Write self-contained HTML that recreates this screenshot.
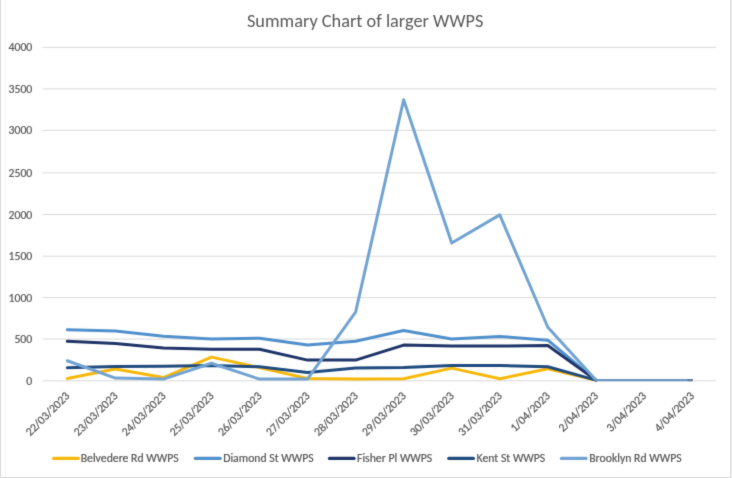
<!DOCTYPE html><html><head><meta charset="utf-8"><title>Summary Chart of larger WWPS</title><style>html,body{margin:0;padding:0;background:#fff;width:732px;height:478px;overflow:hidden}svg{display:block}text{font-family:Carlito, 'Liberation Sans', Arial, sans-serif;fill:#595959;stroke:#595959;stroke-width:0.22px}</style></head><body>
<svg width="732" height="478" viewBox="0 0 732 478">
<defs><filter id="soft" filterUnits="userSpaceOnUse" x="0" y="0" width="732" height="478" color-interpolation-filters="sRGB"><feConvolveMatrix order="3" kernelMatrix="0.02 0.08 0.02 0.08 0.6 0.08 0.02 0.08 0.02" edgeMode="duplicate"/></filter></defs>
<g filter="url(#soft)">
<rect x="0" y="0" width="732" height="478" fill="#fff"/>
<path d="M0.5 0V477.5H730" fill="none" stroke="#D9D9D9" stroke-width="1"/>
<line x1="730.5" y1="0" x2="730.5" y2="478" stroke="#DEDEDE" stroke-width="1"/>
<line x1="5.5" y1="0" x2="5.5" y2="477" stroke="#F3F3F3" stroke-width="1"/>
<line x1="731.5" y1="0" x2="731.5" y2="478" stroke="#EBEBEB" stroke-width="1"/>
<text x="365.2" y="26.6" text-anchor="middle" font-size="18.3" style="stroke-width:0" textLength="236.44" lengthAdjust="spacingAndGlyphs">Summary Chart of larger WWPS</text>
<line x1="42.5" y1="380.80" x2="716.4" y2="380.80" stroke="#D9D9D9" stroke-width="1"/>
<text x="32.3" y="384.80" text-anchor="end" font-size="11.76" textLength="5.97" lengthAdjust="spacingAndGlyphs">0</text>
<line x1="42.5" y1="339.00" x2="716.4" y2="339.00" stroke="#D9D9D9" stroke-width="1"/>
<text x="32.3" y="343.00" text-anchor="end" font-size="11.76" textLength="17.88" lengthAdjust="spacingAndGlyphs">500</text>
<line x1="42.5" y1="297.60" x2="716.4" y2="297.60" stroke="#D9D9D9" stroke-width="1"/>
<text x="32.3" y="301.60" text-anchor="end" font-size="11.76" textLength="23.83" lengthAdjust="spacingAndGlyphs">1000</text>
<line x1="42.5" y1="256.20" x2="716.4" y2="256.20" stroke="#D9D9D9" stroke-width="1"/>
<text x="32.3" y="260.20" text-anchor="end" font-size="11.76" textLength="23.83" lengthAdjust="spacingAndGlyphs">1500</text>
<line x1="42.5" y1="214.50" x2="716.4" y2="214.50" stroke="#D9D9D9" stroke-width="1"/>
<text x="32.3" y="218.50" text-anchor="end" font-size="11.76" textLength="23.83" lengthAdjust="spacingAndGlyphs">2000</text>
<line x1="42.5" y1="172.90" x2="716.4" y2="172.90" stroke="#D9D9D9" stroke-width="1"/>
<text x="32.3" y="176.90" text-anchor="end" font-size="11.76" textLength="23.83" lengthAdjust="spacingAndGlyphs">2500</text>
<line x1="42.5" y1="130.40" x2="716.4" y2="130.40" stroke="#D9D9D9" stroke-width="1"/>
<text x="32.3" y="134.40" text-anchor="end" font-size="11.76" textLength="23.83" lengthAdjust="spacingAndGlyphs">3000</text>
<line x1="42.5" y1="88.90" x2="716.4" y2="88.90" stroke="#D9D9D9" stroke-width="1"/>
<text x="32.3" y="92.90" text-anchor="end" font-size="11.76" textLength="23.83" lengthAdjust="spacingAndGlyphs">3500</text>
<line x1="42.5" y1="47.40" x2="716.4" y2="47.40" stroke="#D9D9D9" stroke-width="1"/>
<text x="32.3" y="51.40" text-anchor="end" font-size="11.76" textLength="23.83" lengthAdjust="spacingAndGlyphs">4000</text>
<text transform="translate(70.30 396.50) rotate(-45)" text-anchor="end" font-size="11.76" textLength="56.73" lengthAdjust="spacingAndGlyphs">22/03/2023</text>
<text transform="translate(118.35 396.50) rotate(-45)" text-anchor="end" font-size="11.76" textLength="56.73" lengthAdjust="spacingAndGlyphs">23/03/2023</text>
<text transform="translate(166.40 396.50) rotate(-45)" text-anchor="end" font-size="11.76" textLength="56.73" lengthAdjust="spacingAndGlyphs">24/03/2023</text>
<text transform="translate(214.45 396.50) rotate(-45)" text-anchor="end" font-size="11.76" textLength="56.73" lengthAdjust="spacingAndGlyphs">25/03/2023</text>
<text transform="translate(262.50 396.50) rotate(-45)" text-anchor="end" font-size="11.76" textLength="56.73" lengthAdjust="spacingAndGlyphs">26/03/2023</text>
<text transform="translate(310.55 396.50) rotate(-45)" text-anchor="end" font-size="11.76" textLength="56.73" lengthAdjust="spacingAndGlyphs">27/03/2023</text>
<text transform="translate(358.60 396.50) rotate(-45)" text-anchor="end" font-size="11.76" textLength="56.73" lengthAdjust="spacingAndGlyphs">28/03/2023</text>
<text transform="translate(406.65 396.50) rotate(-45)" text-anchor="end" font-size="11.76" textLength="56.73" lengthAdjust="spacingAndGlyphs">29/03/2023</text>
<text transform="translate(454.70 396.50) rotate(-45)" text-anchor="end" font-size="11.76" textLength="56.73" lengthAdjust="spacingAndGlyphs">30/03/2023</text>
<text transform="translate(502.75 396.50) rotate(-45)" text-anchor="end" font-size="11.76" textLength="56.73" lengthAdjust="spacingAndGlyphs">31/03/2023</text>
<text transform="translate(550.80 396.50) rotate(-45)" text-anchor="end" font-size="11.76" textLength="50.77" lengthAdjust="spacingAndGlyphs">1/04/2023</text>
<text transform="translate(598.85 396.50) rotate(-45)" text-anchor="end" font-size="11.76" textLength="50.77" lengthAdjust="spacingAndGlyphs">2/04/2023</text>
<text transform="translate(646.90 396.50) rotate(-45)" text-anchor="end" font-size="11.76" textLength="50.77" lengthAdjust="spacingAndGlyphs">3/04/2023</text>
<text transform="translate(694.95 396.50) rotate(-45)" text-anchor="end" font-size="11.76" textLength="50.77" lengthAdjust="spacingAndGlyphs">4/04/2023</text>
<polyline points="67.30,378.52 115.35,369.01 163.40,377.60 211.45,357.10 259.50,367.60 307.55,378.52 355.60,379.10 403.65,378.77 451.70,368.10 499.75,378.77 547.80,368.76 595.85,380.10" fill="none" stroke="#F8B80A" stroke-width="3.0" stroke-linejoin="round" stroke-linecap="round"/>
<polyline points="67.30,329.67 115.35,331.09 163.40,336.34 211.45,339.09 259.50,338.17 307.55,345.09 355.60,341.18 403.65,330.42 451.70,339.09 499.75,336.51 547.80,340.18 595.85,380.10" fill="none" stroke="#5190CC" stroke-width="3.0" stroke-linejoin="round" stroke-linecap="round"/>
<polyline points="67.30,341.34 115.35,343.43 163.40,348.01 211.45,349.26 259.50,349.26 307.55,360.10 355.60,360.10 403.65,345.09 451.70,346.01 499.75,346.01 547.80,345.59 595.85,380.10" fill="none" stroke="#1F3468" stroke-width="3.0" stroke-linejoin="round" stroke-linecap="round"/>
<polyline points="67.30,367.68 115.35,366.51 163.40,366.18 211.45,365.51 259.50,366.76 307.55,372.43 355.60,368.10 403.65,367.51 451.70,365.51 499.75,365.51 547.80,366.76 595.85,380.10" fill="none" stroke="#1F4B7E" stroke-width="3.0" stroke-linejoin="round" stroke-linecap="round"/>
<polyline points="67.30,360.76 115.35,378.10 163.40,379.10 211.45,363.26 259.50,379.10 307.55,378.93 355.60,312.17 403.65,99.71 451.70,243.07 499.75,214.90 547.80,327.26 595.85,380.10" fill="none" stroke="#72A3D2" stroke-width="3.0" stroke-linejoin="round" stroke-linecap="round"/>
<polyline points="595.85,380.10 691.95,380.10" fill="none" stroke="#6E96C2" stroke-width="2.3" stroke-linecap="round"/>
<line x1="688.45" y1="380.10" x2="691.95" y2="380.10" stroke="#58769C" stroke-width="2.3" stroke-linecap="round" opacity="0.8"/>
<line x1="53.6" y1="458.4" x2="78.2" y2="458.4" stroke="#F8B80A" stroke-width="3.3" stroke-linecap="round"/>
<text x="80.7" y="461.6" font-size="11.76" textLength="98.03" lengthAdjust="spacingAndGlyphs">Belvedere Rd WWPS</text>
<line x1="195.3" y1="458.4" x2="220.2" y2="458.4" stroke="#5190CC" stroke-width="3.3" stroke-linecap="round"/>
<text x="223.2" y="461.6" font-size="11.76" textLength="90.52" lengthAdjust="spacingAndGlyphs">Diamond St WWPS</text>
<line x1="329.5" y1="458.4" x2="354.0" y2="458.4" stroke="#1F3468" stroke-width="3.3" stroke-linecap="round"/>
<text x="357.0" y="461.6" font-size="11.76" textLength="75.27" lengthAdjust="spacingAndGlyphs">Fisher Pl WWPS</text>
<line x1="448.8" y1="458.4" x2="473.4" y2="458.4" stroke="#1F4B7E" stroke-width="3.3" stroke-linecap="round"/>
<text x="476.5" y="461.6" font-size="11.76" textLength="68.77" lengthAdjust="spacingAndGlyphs">Kent St WWPS</text>
<line x1="561.4" y1="458.4" x2="586.1" y2="458.4" stroke="#72A3D2" stroke-width="3.3" stroke-linecap="round"/>
<text x="589.2" y="461.6" font-size="11.76" textLength="92.47" lengthAdjust="spacingAndGlyphs">Brooklyn Rd WWPS</text>
</g></svg></body></html>
